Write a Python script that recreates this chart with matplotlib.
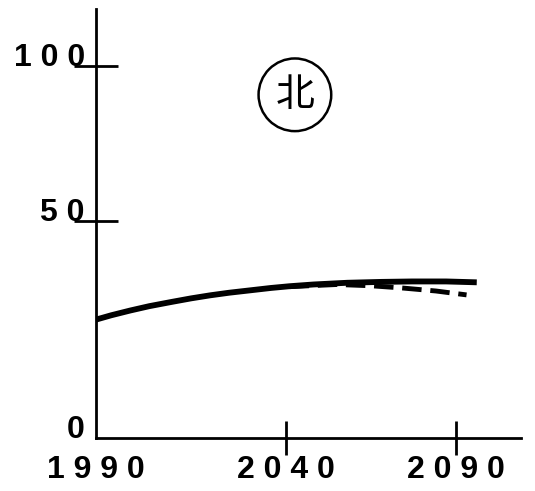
import numpy as np
import matplotlib
matplotlib.use('Agg')
import matplotlib.pyplot as plt

plt.rcParams['font.family'] = ['Liberation Sans', 'DejaVu Sans']

# solid curve
years = [1990, 1994, 1999, 2004, 2010, 2015, 2020, 2025, 2031, 2036, 2041,
         2048, 2058, 2068, 2077, 2087, 2096]
values = [27.3, 28.3, 29.4, 30.4, 31.4, 32.2, 32.9, 33.5, 34.1, 34.6, 35.0,
          35.4, 35.8, 36.0, 36.1, 36.1, 35.9]

# dashed curve (drops a little below the solid one)
years_dash = [2041, 2055, 2065, 2074, 2084, 2091, 2093]
values_dash = [34.9, 35.4, 35.1, 34.6, 33.9, 33.2, 33.0]

xticks = [1990, 2040, 2090]
xlabels = ['1 9 9 0', '2 0 4 0', '2 0 9 0']
yticks = [0, 50, 100]
ylabels = ['0', '5 0', '1 0 0']

# the original axes are hand drawn, tick spacing isn't even
x_pts = [1990, 2040, 2090, 2110]
x_px = [0, 190, 360, 428]
y_pts = [0, 50, 100, 120]
y_px = [0, 217, 372, 434]


def xf(v):
    return np.interp(v, x_pts, x_px)


def xi(v):
    return np.interp(v, x_px, x_pts)


def yf(v):
    return np.interp(v, y_pts, y_px)


def yi(v):
    return np.interp(v, y_px, y_pts)


fig = plt.figure(figsize=(5.35, 4.91), dpi=100)
ax = fig.add_axes([96 / 535, 53 / 491, 425 / 535, 429 / 491])
ax.set_xscale('function', functions=(xf, xi))
ax.set_yscale('function', functions=(yf, yi))

ax.plot(years_dash, values_dash, color='black', lw=3.5, dashes=(4, 1.8),
        solid_capstyle='butt')
ax.plot(years, values, color='black', lw=4.2, solid_capstyle='butt',
        solid_joinstyle='round')

ax.set_xlim(1990, 2109)
ax.set_ylim(0, 118.5)

for s in ['top', 'right']:
    ax.spines[s].set_visible(False)
for s in ['left', 'bottom']:
    ax.spines[s].set_linewidth(2)

ax.set_xticks(xticks)
ax.set_xticklabels(xlabels)
ax.set_yticks(yticks)
ax.set_yticklabels(ylabels)
ax.tick_params(axis='x', direction='inout', length=24, width=2, pad=0,
               labelsize=23)
ax.tick_params(axis='y', direction='inout', length=32, width=2, pad=-8,
               labelsize=23)
for lab in ax.get_xticklabels() + ax.get_yticklabels():
    lab.set_fontweight('bold')
for lab in ax.get_yticklabels():
    lab.set_va('baseline')
ax.xaxis.get_major_ticks()[0].tick1line.set_visible(False)
ax.yaxis.get_major_ticks()[0].tick1line.set_visible(False)

ax.text(0.468, 0.80, '北', transform=ax.transAxes, ha='center', va='center',
        fontsize=28, family=['Noto Sans CJK JP', 'DejaVu Sans'],
        bbox=dict(boxstyle='circle,pad=0.42', fc='white', ec='black', lw=1.8))

fig.savefig('out.png', dpi=100)
